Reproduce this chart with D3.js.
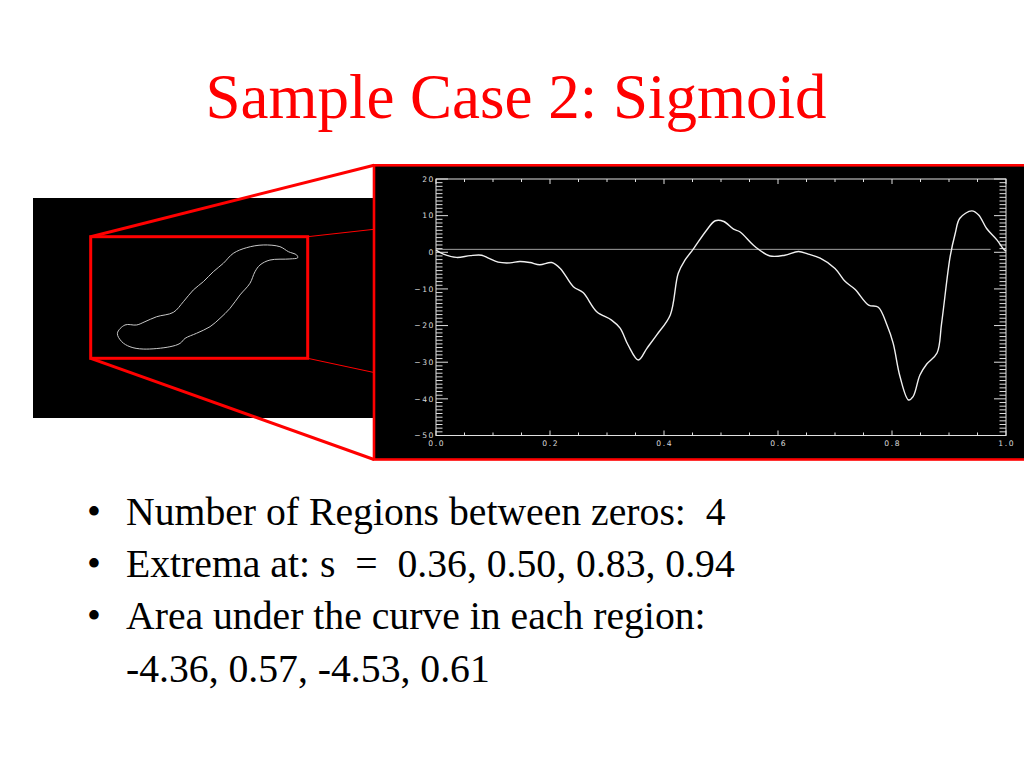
<!DOCTYPE html>
<html>
<head>
<meta charset="utf-8">
<script src="https://cdn.jsdelivr.net/npm/d3@7/dist/d3.min.js"></script>
<style>
  html, body { margin: 0; padding: 0; background: #fff; }
  svg { display: block; }
</style>
</head>
<body>
<svg id="slide" width="1024" height="768"></svg>
<script>
// ---------- data ----------
const titleText = "Sample Case 2: Sigmoid";
const bulletLines = [
  { bullet: true,  text: "Number of Regions between zeros:\u00a0\u00a04" },
  { bullet: true,  text: "Extrema at: s \u00a0=\u00a0 0.36, 0.50, 0.83, 0.94" },
  { bullet: true,  text: "Area under the curve in each region:" },
  { bullet: false, text: "-4.36, 0.57, -4.53, 0.61" }
];

// curve: arc-length parameter s vs. value
const sValues = [0, .013, .036, .060, .080, .092, .109, .130, .147, .165, .182, .203, .218, .241, .258, .282,
  .308, .323, .337, .355, .370, .387, .411, .425, .437, .451, .475, .490, .505, .522, .533, .560, .586, .612,
  .636, .653, .674, .700, .718, .735, .759, .776, .791, .802, .814, .829, .837, .849, .861, .879, .887, .902,
  .911, .919, .940, .952, .966, .984, .996, 1.0];
const fValues = [0.6, -0.5, -1.4, -0.9, -0.8, -1.6, -2.7, -2.9, -2.5, -2.8, -3.4, -2.8, -4.4, -9.4, -11.0, -16.2,
  -18.5, -20.7, -25.3, -29.4, -26.2, -22.6, -17.1, -5.7, -2.1, 0.8, 6.1, 8.6, 8.4, 6.3, 5.6, 1.5, -1.0, -0.8,
  0.2, -0.5, -1.6, -4.4, -8.0, -10.1, -14.4, -15.0, -19.8, -24.8, -33.9, -40.3, -39.4, -33.5, -30.5, -27.5, -19.4, -1.2,
  5.2, 9.3, 11.3, 10.2, 6.5, 3.4, 0.8, 0.3];
const zeroLineValue = 0.8;
const zeroLineEnd = 0.973;

const xTickMajor = [0, 0.2, 0.4, 0.6, 0.8, 1.0];
const xTickLabels = ["0.0", "0.2", "0.4", "0.6", "0.8", "1.0"];
const yTickMajor = [20, 10, 0, -10, -20, -30, -40, -50];
const yTickLabels = ["20", "10", "0", "\u221210", "\u221220", "\u221230", "\u221240", "\u221250"];

// contour of the region in the thumbnail (normalised 0..100 within the zoom rectangle)
const blobU = [12.3, 15.8, 21.2, 25.0, 30.4, 38.1, 42.7, 47.3, 51.9, 56.5, 61.1, 65.7, 71.9, 79.5, 87.2, 91.1, 94.9, 95.4,
  91.8, 82.6, 78.0, 75.7, 73.4, 68.8, 64.2, 59.6, 55.0, 48.8, 43.5, 41.2, 36.5, 24.2, 18.1, 14.3];
const blobV = [79.4, 72.6, 72.6, 69.9, 65.8, 62.2, 53.5, 43.8, 37.0, 28.8, 21.9, 13.7, 9.0, 6.8, 8.2, 12.3, 15.0, 17.3,
  18.3, 19.2, 23.3, 28.8, 38.3, 47.9, 58.9, 67.1, 74.0, 79.4, 83.6, 87.7, 90.5, 92.4, 90.5, 86.3];

// ---------- drawing ----------
const svg = d3.select("#slide");
const RED = "#ff0000";

// title
svg.append("text")
  .attr("x", 516).attr("y", 118)
  .attr("text-anchor", "middle")
  .attr("font-family", "'Liberation Serif', 'Times New Roman', serif")
  .attr("font-size", 63)
  .attr("fill", RED)
  .text(titleText);

// thumbnail image area
const thumb = { x: 33, y: 198, w: 345, h: 220 };
svg.append("rect").attr("x", thumb.x).attr("y", thumb.y).attr("width", thumb.w).attr("height", thumb.h).attr("fill", "#000");

const zoomRect = { x0: 90.7, y0: 236.7, x1: 307.7, y1: 358.3 };
const bu = d3.scaleLinear().domain([0, 100]).range([zoomRect.x0, zoomRect.x1]);
const bv = d3.scaleLinear().domain([0, 100]).range([zoomRect.y0, zoomRect.y1]);
const blobPts = blobU.map((u, i) => [bu(u), bv(blobV[i])]);
svg.append("path")
  .attr("d", d3.line().curve(d3.curveCatmullRomClosed.alpha(0.5))(blobPts))
  .attr("fill", "none").attr("stroke", "#c8c8c8").attr("stroke-width", 1);

// big zoomed panel geometry
const panel = { x: 374, y: 165.3, w: 700, h: 294.2 };

// thin connectors from zoom rect right side
svg.append("line").attr("x1", zoomRect.x1).attr("y1", zoomRect.y0).attr("x2", panel.x).attr("y2", 229.3)
  .attr("stroke", RED).attr("stroke-width", 1);
svg.append("line").attr("x1", zoomRect.x1).attr("y1", zoomRect.y1).attr("x2", panel.x).attr("y2", 372.5)
  .attr("stroke", RED).attr("stroke-width", 1);

// zoom rectangle
svg.append("rect").attr("x", zoomRect.x0).attr("y", zoomRect.y0)
  .attr("width", zoomRect.x1 - zoomRect.x0).attr("height", zoomRect.y1 - zoomRect.y0)
  .attr("fill", "none").attr("stroke", RED).attr("stroke-width", 3);

// thick connectors from zoom rect left side to panel corners
svg.append("line").attr("x1", zoomRect.x0).attr("y1", zoomRect.y0).attr("x2", panel.x).attr("y2", panel.y)
  .attr("stroke", RED).attr("stroke-width", 3);
svg.append("line").attr("x1", zoomRect.x0).attr("y1", zoomRect.y1).attr("x2", panel.x).attr("y2", panel.y + panel.h)
  .attr("stroke", RED).attr("stroke-width", 3);

// panel
svg.append("rect").attr("x", panel.x).attr("y", panel.y).attr("width", panel.w).attr("height", panel.h)
  .attr("fill", "#000").attr("stroke", RED).attr("stroke-width", 2.6);

// plot inside panel
const plot = { left: 436, right: 1006, top: 179, bottom: 435.5 };
const x = d3.scaleLinear().domain([0, 1]).range([plot.left, plot.right]);
const y = d3.scaleLinear().domain([-50, 20]).range([plot.bottom, plot.top]);

const AX = "#e0e0e0";
const LBL = "#dcdcdc";
const g = svg.append("g");

// frame
g.append("rect").attr("x", plot.left).attr("y", plot.top)
  .attr("width", plot.right - plot.left).attr("height", plot.bottom - plot.top)
  .attr("fill", "none").attr("stroke", AX).attr("stroke-width", 1);

const xMinor = d3.range(0, 1.0001, 0.05);
const yMinor = d3.range(-50, 20.001, 1);
const isMajorX = v => xTickMajor.some(t => Math.abs(t - v) < 1e-6);
const isMajorY = v => yTickMajor.some(t => Math.abs(t - v) < 1e-6);

// x ticks (bottom up, top down)
xMinor.forEach(v => {
  const len = isMajorX(v) ? 5 : 3;
  g.append("line").attr("x1", x(v)).attr("x2", x(v)).attr("y1", plot.bottom).attr("y2", plot.bottom - len)
    .attr("stroke", AX).attr("stroke-width", 1);
  g.append("line").attr("x1", x(v)).attr("x2", x(v)).attr("y1", plot.top).attr("y2", plot.top + len)
    .attr("stroke", AX).attr("stroke-width", 1);
});
// y ticks (left rightwards, right leftwards)
yMinor.forEach(v => {
  const len = isMajorY(v) ? 12 : 6.5;
  g.append("line").attr("x1", plot.left).attr("x2", plot.left + len).attr("y1", y(v)).attr("y2", y(v))
    .attr("stroke", AX).attr("stroke-width", 1);
  g.append("line").attr("x1", plot.right).attr("x2", plot.right - len).attr("y1", y(v)).attr("y2", y(v))
    .attr("stroke", AX).attr("stroke-width", 1);
});

// tick labels
const tickFont = { family: "'DejaVu Sans', sans-serif", size: 7.6, spacing: 1.6 };
g.selectAll(".xl").data(xTickMajor).enter().append("text")
  .attr("x", d => x(d) + tickFont.spacing / 2).attr("y", plot.bottom + 10.5)
  .attr("text-anchor", "middle")
  .attr("font-family", tickFont.family).attr("font-size", tickFont.size)
  .attr("letter-spacing", tickFont.spacing).attr("fill", LBL)
  .text((d, i) => xTickLabels[i]);
g.selectAll(".yl").data(yTickMajor).enter().append("text")
  .attr("x", plot.left - 1).attr("y", d => y(d) + 2.8)
  .attr("text-anchor", "end")
  .attr("font-family", tickFont.family).attr("font-size", tickFont.size)
  .attr("letter-spacing", tickFont.spacing).attr("fill", LBL)
  .text((d, i) => yTickLabels[i]);

// zero reference line
g.append("line").attr("x1", x(0)).attr("x2", x(zeroLineEnd))
  .attr("y1", y(zeroLineValue)).attr("y2", y(zeroLineValue))
  .attr("stroke", "#a0a0a0").attr("stroke-width", 1);

// curve
const pts = sValues.map((s, i) => [s, fValues[i]]);
g.append("path")
  .attr("d", d3.line().x(d => x(d[0])).y(d => y(d[1])).curve(d3.curveCatmullRom.alpha(0.5))(pts))
  .attr("fill", "none").attr("stroke", "#f0f0f0").attr("stroke-width", 1.4);

// bullets
const bulletFont = "'Liberation Serif', 'Times New Roman', serif";
bulletLines.forEach((b, i) => {
  const by = 525 + i * 52.2;
  if (b.bullet) {
    svg.append("text").attr("x", 87).attr("y", by)
      .attr("font-family", bulletFont).attr("font-size", 39.7).attr("fill", "#000").text("\u2022");
  }
  svg.append("text").attr("x", 126).attr("y", by)
    .attr("font-family", bulletFont).attr("font-size", 39.7).attr("fill", "#000").text(b.text);
});
</script>
</body>
</html>
